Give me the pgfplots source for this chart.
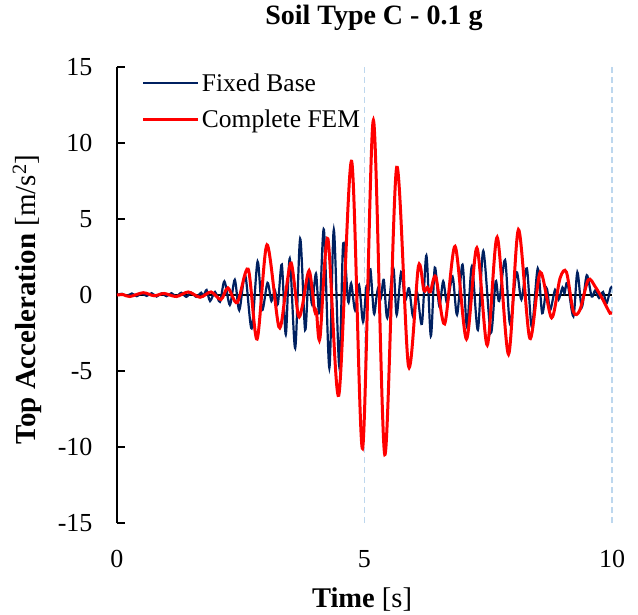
\documentclass[border=0pt]{standalone}
\usepackage{fontspec}
\setmainfont{Liberation Serif}
\usepackage{pgfplots}
\pgfplotsset{compat=1.18}
\definecolor{navyb}{HTML}{002060}
\definecolor{gridb}{HTML}{BDD7EE}
\begin{document}
\begin{tikzpicture}
\useasboundingbox (-117pt,-91pt) rectangle (521pt,523pt);
\begin{axis}[
  scale only axis, width=495pt, height=456pt,
  xmin=0, xmax=10, ymin=-15, ymax=15,
  axis y line*=left, axis x line*=bottom,
  x axis line style={draw=none},
  y axis line style={black, line width=1.5pt},
  xtick={0,5,10}, xticklabels={0,5,10},
  ytick={-15,-10,-5,0,5,10,15},
  yticklabels={-15,-10,-5,0,5,10,15},
  major x tick style={draw=none},
  major y tick style={black, line width=1.5pt},
  tick align=inside, major tick length=8pt,
  xmajorgrids=true,
  major grid style={gridb, dash pattern=on 6pt off 4pt, line width=1.2pt},
  tick label style={font=\fontsize{26}{30}\selectfont},
  xticklabel style={yshift=-24pt},
  yticklabel style={xshift=-21pt},
  title={\textbf{Soil Type C - 0.1 g}},
  title style={at={(0.519,1.094)}, anchor=center, font=\fontsize{28}{32}\selectfont},
  xlabel={\textbf{Time} [s]},
  xlabel style={at={(0.495,-0.168)}, anchor=center, font=\fontsize{28.5}{32}\selectfont},
  ylabel={\textbf{Top Acceleration} [m/s\textsuperscript{2}]},
  ylabel style={at={(-0.182,0.49)}, anchor=center, rotate=0, font=\fontsize{29}{32}\selectfont},
  legend style={at={(0.046,0.995)}, anchor=north west, draw=none, fill=none,
    font=\fontsize{25.5}{29}\selectfont, row sep=13pt, inner sep=2pt},
  legend cell align=left,
  legend image code/.code={\draw[#1] (0pt,0pt) -- (55pt,0pt);},
]
\addplot[black, line width=2pt, forget plot] coordinates {(0,0) (10,0)};
\addplot[navyb, line width=2.2pt, smooth] coordinates {
(0,0) (0.1,0.08) (0.2,-0.06) (0.3,0.1) (0.4,-0.08) (0.5,0.1) (0.6,-0.06) (0.7,0.12)
(0.8,-0.1) (0.9,0.1) (1.0,-0.08) (1.1,0.12) (1.2,-0.1) (1.3,0.15) (1.4,-0.12) (1.5,0.15)
(1.6,-0.12) (1.7,0.15) (1.75,-0.05) (1.81,0.33) (1.88,-0.4) (1.98,0.2) (2.08,-0.45)
(2.17,0.9) (2.28,-0.66) (2.38,1.0) (2.47,-1.0) (2.59,1.3) (2.72,-2.2) (2.84,2.2)
(2.93,-1.0) (3.04,0.8) (3.12,-0.4) (3.19,0.3) (3.25,-0.6) (3.33,2.0) (3.41,-2.6)
(3.49,2.4) (3.6,-3.5) (3.7,3.7) (3.8,-2.3) (3.87,1.2) (3.94,-0.6) (4.02,1.4) (4.09,-1.2)
(4.18,4.3) (4.29,-4.8) (4.38,4.3) (4.49,-4.7) (4.57,3.4) (4.67,-0.44) (4.73,0.77)
(4.81,-1.0) (4.89,0.66) (4.97,-1.75) (5.04,0.6) (5.08,0.2) (5.12,1.7) (5.19,-1.2)
(5.24,-0.2) (5.28,0.5) (5.33,-0.2) (5.39,1.0) (5.46,-1.5) (5.58,1.8) (5.65,-1.3)
(5.74,1.5) (5.82,-0.33) (5.9,0.44) (5.98,-1.4) (6.06,0.2) (6.16,-1.9) (6.25,2.6)
(6.34,-2.7) (6.42,1.8) (6.51,-0.7) (6.59,0.9) (6.67,-0.55) (6.78,1.2) (6.87,-1.3)
(6.98,2.0) (7.07,-2.1) (7.17,1.9) (7.29,-2.3) (7.4,2.9) (7.55,-2.5) (7.65,0.9)
(7.72,-0.4) (7.84,2.3) (7.94,-1.9) (8.07,1.5) (8.17,-0.3) (8.28,1.75) (8.38,-2.1)
(8.5,1.75) (8.59,-1.2) (8.68,0.44) (8.75,-1.0) (8.85,0.35) (8.92,-0.3) (9.0,0.5)
(9.04,0.1) (9.1,0.8) (9.22,-1.4) (9.3,1.5) (9.39,-0.8) (9.49,1.3) (9.59,-0.1)
(9.66,0.3) (9.74,-0.2) (9.82,0.2) (9.89,-0.55) (9.97,0.44) (10,0.5)
};
\addlegendentry{Fixed Base}
\addplot[red, line width=3pt, smooth] coordinates {
(0,0) (0.13,0.02) (0.26,-0.1) (0.53,0.15) (0.75,-0.05) (0.95,0.1) (1.2,-0.1)
(1.44,0.2) (1.68,-0.15) (1.9,0.2) (2.1,-0.3) (2.24,0.47) (2.43,-0.5) (2.65,1.7)
(2.83,-2.9) (3.03,3.3) (3.27,-2.1) (3.4,0.0) (3.52,2.1) (3.66,-1.3) (3.74,-0.8)
(3.88,1.6) (3.99,-1.0) (4.03,-1.1) (4.1,-2.85) (4.26,3.7) (4.48,-6.6) (4.74,8.8)
(4.96,-10.1) (5.18,11.5) (5.41,-10.5) (5.65,8.4) (5.89,-4.7) (6.09,1.9) (6.2,0.3)
(6.27,0.5) (6.33,0.2) (6.44,1.2) (6.62,-1.9) (6.83,3.2) (7.06,-2.9) (7.27,3.1)
(7.48,-3.3) (7.68,3.8) (7.91,-3.9) (8.11,4.3) (8.34,-2.85) (8.55,1.5) (8.78,-1.5)
(8.95,1.1) (9.08,1.5) (9.22,-1.1) (9.35,-1.0) (9.52,1.0) (9.66,0.55) (9.82,-0.33)
(9.96,-1.2) (10,-1.1)
};
\addlegendentry{Complete FEM}
\end{axis}
\end{tikzpicture}
\end{document}
